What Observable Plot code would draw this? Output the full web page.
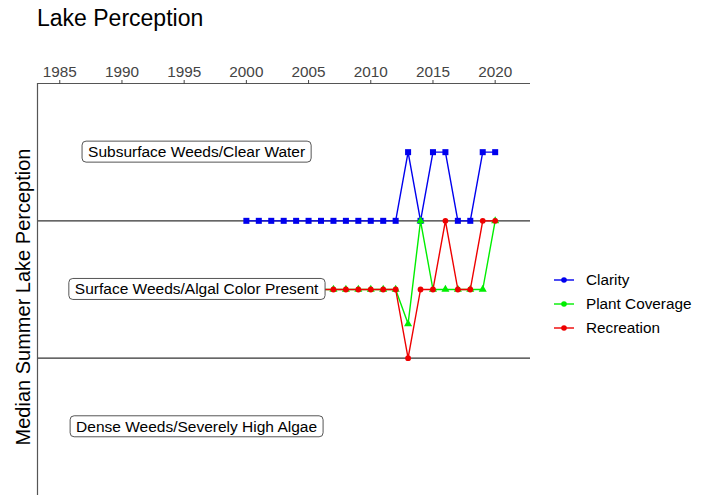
<!DOCTYPE html>
<html>
<head>
<meta charset="utf-8">
<script src="https://cdn.jsdelivr.net/npm/d3@7"></script>
<script src="https://cdn.jsdelivr.net/npm/@observablehq/plot@0.6"></script>
<style>
  html, body { margin: 0; padding: 0; background: #fff; }
  body { font-family: "Liberation Sans", Arial, sans-serif; }
  #wrap { position: relative; width: 715px; height: 495px; overflow: hidden; }
  #title { position: absolute; left: 37px; top: 5px; font-size: 23px; color: #000; white-space: nowrap; }
  #ylab { position: absolute; left: 23px; top: 297px; font-size: 20px; color: #000; white-space: nowrap;
          transform: translate(-50%, -50%) rotate(-90deg); }
  #legend { position: absolute; left: 553px; top: 268.5px; font-size: 15.3px; color: #000; }
  .item { display: flex; align-items: center; height: 23.7px; }
  .item svg { margin-right: 11px; }
</style>
</head>
<body>
<div id="wrap">
  <div id="title">Lake Perception</div>
  <div id="ylab">Median Summer Lake Perception</div>
  <div id="legend"></div>
</div>
<script>
// ---- data ----
const xTicks = [1985, 1990, 1995, 2000, 2005, 2010, 2015, 2020];
const clarityYears = [2000, 2001, 2002, 2003, 2004, 2005, 2006, 2007, 2008, 2009, 2010, 2011, 2012, 2013, 2014, 2015, 2016, 2017, 2018, 2019, 2020];
const clarityValues = [2.5, 2.5, 2.5, 2.5, 2.5, 2.5, 2.5, 2.5, 2.5, 2.5, 2.5, 2.5, 2.5, 3, 2.5, 3, 3, 2.5, 2.5, 3, 3];
const plantYears = [2006, 2007, 2008, 2009, 2010, 2011, 2012, 2013, 2014, 2015, 2016, 2017, 2018, 2019, 2020];
const plantValues = [2, 2, 2, 2, 2, 2, 2, 1.75, 2.5, 2, 2, 2, 2, 2, 2.5];
const recreationYears = [2006, 2007, 2008, 2009, 2010, 2011, 2012, 2013, 2014, 2015, 2016, 2017, 2018, 2019, 2020];
const recreationValues = [2, 2, 2, 2, 2, 2, 2, 1.5, 2, 2, 2.5, 2, 2, 2.5, 2.5];
const seriesNames = ["Clarity", "Plant Coverage", "Recreation"];
const seriesColors = ["#0000ee", "#00ee00", "#ee0000"];
const categoryLabels = ["Subsurface Weeds/Clear Water", "Surface Weeds/Algal Color Present", "Dense Weeds/Severely High Algae"];
const categoryLevels = [3, 2, 1];
const categoryLabelYear = 1996;
const separators = [2.5, 1.5];
const xDomain = [1983.21, 2022.84];
const yDomain = [0.5, 3.5];

const toRows = (years, values) => years.map((y, i) => ({year: y, value: values[i]}));
const clarity = toRows(clarityYears, clarityValues);
const plant = toRows(plantYears, plantValues);
const recreation = toRows(recreationYears, recreationValues);
const labels = categoryLabels.map((t, i) => ({text: t, level: categoryLevels[i], year: categoryLabelYear}));

const chart = Plot.plot({
  width: 715,
  height: 495,
  marginLeft: 37,
  marginRight: 185,
  marginTop: 83,
  marginBottom: 0,
  style: {fontFamily: "'Liberation Sans', Arial, sans-serif", fontSize: "15px", background: "transparent", overflow: "visible"},
  x: {domain: xDomain, axis: null},
  y: {domain: yDomain, axis: null},
  marks: [
    Plot.ruleY(separators, {stroke: "#333", strokeWidth: 1.2}),
    Plot.ruleY([yDomain[1]], {stroke: "#555", strokeWidth: 1.2}),
    Plot.ruleX([xDomain[0]], {stroke: "#555", strokeWidth: 1.2}),
    Plot.axisX({anchor: "top", ticks: xTicks, tickSize: 4, tickPadding: 3, tickFormat: d => String(d), label: null, color: "#444", fontSize: 15.3}),
    Plot.line(clarity, {x: "year", y: "value", stroke: seriesColors[0], strokeWidth: 1.4}),
    Plot.dot(clarity, {x: "year", y: "value", symbol: "square", r: 3.4, fill: seriesColors[0], stroke: "none"}),
    Plot.line(plant, {x: "year", y: "value", stroke: seriesColors[1], strokeWidth: 1.4}),
    Plot.dot(plant, {x: "year", y: "value", symbol: "triangle", r: 3.0, fill: seriesColors[1], stroke: "none"}),
    Plot.line(recreation, {x: "year", y: "value", stroke: seriesColors[2], strokeWidth: 1.4}),
    Plot.dot(recreation, {x: "year", y: "value", symbol: "circle", r: 2.9, fill: seriesColors[2], stroke: "none"}),
    Plot.text(labels, {x: "year", y: "level", text: "text", fill: "#000", fontSize: 15.5, textAnchor: "middle"})
  ]
});
chart.style.position = "absolute";
chart.style.left = "0px";
chart.style.top = "0px";
const wrap = document.getElementById("wrap");
wrap.insertBefore(chart, wrap.firstChild);

// rounded boxes behind the category labels
const svgNS = "http://www.w3.org/2000/svg";
chart.querySelectorAll("text").forEach(t => {
  if (!categoryLabels.includes(t.textContent)) return;
  const b = t.getBBox();
  const r = document.createElementNS(svgNS, "rect");
  const px = 6, py = 2.5;
  r.setAttribute("x", b.x - px);
  r.setAttribute("y", b.y - py + 0.5);
  r.setAttribute("width", b.width + 2 * px);
  r.setAttribute("height", b.height + 2 * py - 1);
  r.setAttribute("rx", 4);
  r.setAttribute("fill", "#fff");
  r.setAttribute("stroke", "#555");
  r.setAttribute("stroke-width", 1);
  if (t.getAttribute("transform")) r.setAttribute("transform", t.getAttribute("transform"));
  t.parentNode.insertBefore(r, t);
});

// legend
const legend = document.getElementById("legend");
seriesNames.forEach((name, i) => {
  const item = document.createElement("div");
  item.className = "item";
  item.innerHTML = `<svg width="22" height="10"><line x1="1" x2="21" y1="5" y2="5" stroke="${seriesColors[i]}" stroke-width="1.4"/><circle cx="11" cy="5" r="2.8" fill="${seriesColors[i]}"/></svg><span>${name}</span>`;
  legend.appendChild(item);
});
</script>
</body>
</html>
